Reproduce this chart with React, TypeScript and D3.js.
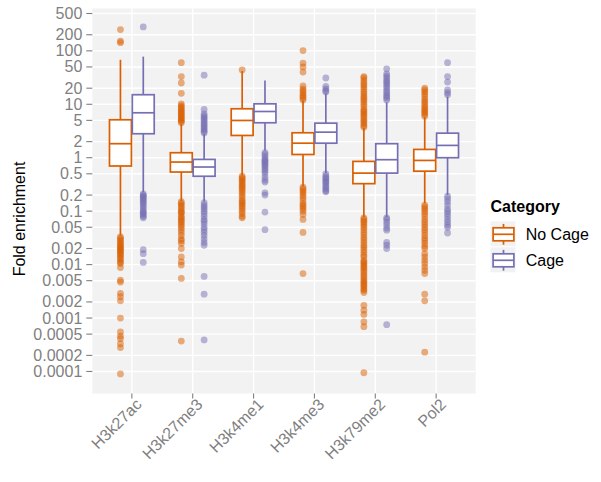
import React from "react";
import * as d3 from "d3";

// categories and groups
const categories = ["H3k27ac", "H3k27me3", "H3k4me1", "H3k4me3", "H3k79me2", "Pol2"];
const groups = ["No Cage", "Cage"];
const colors = ["#D95F02", "#7570B3"];

// box statistics (fold enrichment)
const noCageLow = [0.035, 0.155, 0.47, 0.29, 0.078, 0.14];
const noCageQ1 = [0.7, 0.54, 2.61, 1.15, 0.327, 0.56];
const noCageMedian = [1.83, 0.83, 4.98, 1.87, 0.515, 0.89];
const noCageQ3 = [5.13, 1.24, 8.24, 2.93, 0.853, 1.43];
const noCageHigh = [68, 4.3, 42, 11.8, 3.6, 5.8];

const cageLow = [0.226, 0.15, 1.35, 0.515, 0.077, 0.2];
const cageQ1 = [2.81, 0.45, 4.51, 1.87, 0.515, 1.0];
const cageMedian = [6.93, 0.67, 7.33, 3.01, 0.918, 1.7];
const cageQ3 = [15.1, 0.93, 10.2, 4.43, 1.83, 2.88];
const cageHigh = [78, 2.79, 27.9, 16, 10.9, 14];

const noCageOutliers = [
  [250, 152, 142, 0.033, 0.031, 0.029, 0.027, 0.025, 0.024, 0.022, 0.021, 0.02, 0.019, 0.018, 0.017, 0.016, 0.015, 0.014, 0.013, 0.012, 0.011, 0.0105, 0.0088, 0.0051, 0.0047, 0.0029, 0.0025, 0.0021, 0.001, 0.00055, 0.00046, 0.00041, 0.00033, 0.00028, 0.00009],
  [60, 33, 25, 16, 10.2, 9.4, 8.8, 8.2, 7.7, 7.2, 6.8, 6.4, 6, 5.6, 5.3, 5, 4.8, 4.5, 0.15, 0.14, 0.13, 0.12, 0.11, 0.1, 0.095, 0.09, 0.08, 0.075, 0.07, 0.065, 0.06, 0.055, 0.05, 0.045, 0.04, 0.035, 0.03, 0.028, 0.025, 0.02, 0.0139, 0.0112, 0.0098, 0.0055, 0.00037],
  [44, 0.45, 0.42, 0.4, 0.37, 0.35, 0.32, 0.3, 0.28, 0.26, 0.24, 0.22, 0.2, 0.18, 0.16, 0.15, 0.14, 0.13, 0.12, 0.11, 0.1, 0.09, 0.08, 0.075],
  [101, 59, 50, 40, 22, 19.5, 18, 16.5, 15, 14, 13, 12, 0.28, 0.26, 0.24, 0.22, 0.2, 0.18, 0.16, 0.14, 0.13, 0.12, 0.11, 0.1, 0.087, 0.07, 0.04, 0.0068],
  [33, 31, 28, 25, 23, 21, 19, 17, 15.5, 14, 13, 12, 11, 10, 9, 8, 7.5, 7, 6.5, 6, 5.5, 5, 4.7, 4.3, 4, 3.7, 0.075, 0.07, 0.065, 0.06, 0.055, 0.05, 0.045, 0.04, 0.036, 0.032, 0.029, 0.026, 0.023, 0.021, 0.019, 0.017, 0.015, 0.014, 0.012, 0.0112, 0.0105, 0.0098, 0.0091, 0.0085, 0.0078, 0.0072, 0.0065, 0.006, 0.0055, 0.005, 0.0047, 0.0044, 0.0041, 0.0038, 0.0035, 0.0033, 0.003, 0.00173, 0.0014, 0.00117, 0.00085, 0.00069, 0.0000946],
  [20, 18.5, 17, 15.5, 14, 12.5, 11.5, 10.5, 9.5, 8.7, 8, 7.5, 7, 6.5, 6, 0.13, 0.12, 0.11, 0.1, 0.09, 0.08, 0.07, 0.063, 0.056, 0.05, 0.045, 0.04, 0.035, 0.031, 0.028, 0.025, 0.022, 0.02, 0.016, 0.014, 0.012, 0.0105, 0.009, 0.0078, 0.0068, 0.0028, 0.0021, 0.00023],
];

const cageOutliers = [
  [280, 0.21, 0.2, 0.19, 0.18, 0.17, 0.16, 0.15, 0.14, 0.13, 0.12, 0.11, 0.1, 0.095, 0.09, 0.085, 0.08, 0.075, 0.019, 0.016, 0.011],
  [35, 8, 6.6, 6.1, 5.7, 5.3, 5, 4.6, 4.3, 4, 3.8, 3.5, 3.3, 3.1, 2.9, 0.145, 0.13, 0.12, 0.11, 0.1, 0.09, 0.08, 0.07, 0.065, 0.058, 0.05, 0.045, 0.04, 0.035, 0.03, 0.026, 0.023, 0.006, 0.0028, 0.00039],
  [1.25, 1.15, 1.05, 0.95, 0.9, 0.85, 0.8, 0.75, 0.7, 0.65, 0.6, 0.55, 0.5, 0.43, 0.38, 0.35, 0.22, 0.2, 0.096, 0.045],
  [31, 21.5, 19.5, 18, 17, 0.5, 0.45, 0.42, 0.4, 0.37, 0.35, 0.33, 0.3, 0.28, 0.26, 0.24, 0.23],
  [46, 37, 34, 31, 28, 26, 24, 22, 20, 18, 16.5, 15, 14, 13, 12, 0.075, 0.07, 0.062, 0.055, 0.048, 0.044, 0.026, 0.023, 0.02, 0.00075],
  [60, 33, 26, 18.5, 16.5, 15, 0.19, 0.17, 0.15, 0.13, 0.11, 0.1, 0.09, 0.08, 0.07, 0.062, 0.055, 0.05, 0.039],
];

// y axis breaks and visible range
const yTicks = [500, 200, 100, 50, 20, 10, 5, 2, 1, 0.5, 0.2, 0.1, 0.05, 0.02, 0.01, 0.005, 0.002, 0.001, 0.0005, 0.0002, 0.0001];
const yTickLabels = ["500", "200", "100", "50", "20", "10", "5", "2", "1", "0.5", "0.2", "0.1", "0.05", "0.02", "0.01", "0.005", "0.002", "0.001", "0.0005", "0.0002", "0.0001"];
const yLimits = [3.87e-5, 620];

const App = () => {
  // panel position
  const width = 601;
  const height = 482;
  const panelLeft = 92.3;
  const panelRight = 475.7;
  const panelTop = 8.5;
  const panelBottom = 393.5;
  const font = "'Liberation Sans', Arial, Helvetica, sans-serif";
  const tickGrey = "#7F7F7F";

  const stats = [
    { low: noCageLow, q1: noCageQ1, med: noCageMedian, q3: noCageQ3, high: noCageHigh, out: noCageOutliers },
    { low: cageLow, q1: cageQ1, med: cageMedian, q3: cageQ3, high: cageHigh, out: cageOutliers },
  ];

  const y = d3.scaleLog()
    .domain(yLimits)
    .range([panelBottom, panelTop]);

  const x = d3.scalePoint()
    .domain(categories)
    .range([panelLeft, panelRight])
    .padding(0.65);

  const step = x.step();
  const dodge = step * 0.1875;
  const boxWidth = step * 0.36;

  const boxes = [];
  categories.forEach((cat, ci) => {
    groups.forEach((g, gi) => {
      const s = stats[gi];
      boxes.push({
        key: cat + g,
        cx: x(cat) + (gi === 0 ? -dodge : dodge),
        color: colors[gi],
        low: s.low[ci], q1: s.q1[ci], med: s.med[ci], q3: s.q3[ci], high: s.high[ci],
        out: s.out[ci],
      });
    });
  });

  // legend layout
  const legendX = 490.5;
  const legendTop = 221.3;
  const keySize = 26;

  return (
    <svg width={width} height={height} style={{ position: "absolute", left: 0, top: 0 }} fontFamily={font}>
      <rect x={0} y={0} width={width} height={height} fill="white" />
      <rect x={panelLeft} y={panelTop} width={panelRight - panelLeft} height={panelBottom - panelTop} fill="#F2F2F2" />

      {/* grid */}
      {yTicks.map((t) => (
        <line key={"gy" + t} x1={panelLeft} x2={panelRight} y1={y(t)} y2={y(t)} stroke="white" strokeWidth={1.4} />
      ))}
      {categories.map((c) => (
        <line key={"gx" + c} x1={x(c)} x2={x(c)} y1={panelTop} y2={panelBottom} stroke="white" strokeWidth={1.4} />
      ))}

      {/* boxplots */}
      {boxes.map((b) => (
        <g key={b.key}>
          {b.out.map((v, i) => (
            <circle key={i} cx={b.cx} cy={y(v)} r={3.4} fill={b.color} fillOpacity={0.5} />
          ))}
          <line x1={b.cx} x2={b.cx} y1={y(b.high)} y2={y(b.q3)} stroke={b.color} strokeWidth={1.7} />
          <line x1={b.cx} x2={b.cx} y1={y(b.q1)} y2={y(b.low)} stroke={b.color} strokeWidth={1.7} />
          <rect x={b.cx - boxWidth / 2} y={y(b.q3)} width={boxWidth} height={y(b.q1) - y(b.q3)}
            fill="white" stroke={b.color} strokeWidth={1.7} />
          <line x1={b.cx - boxWidth / 2} x2={b.cx + boxWidth / 2} y1={y(b.med)} y2={y(b.med)} stroke={b.color} strokeWidth={1.7} />
        </g>
      ))}

      {/* y axis */}
      {yTicks.map((t, i) => (
        <g key={"ty" + t}>
          <line x1={panelLeft - 6} x2={panelLeft} y1={y(t)} y2={y(t)} stroke={tickGrey} strokeWidth={1.1} />
          <text x={panelLeft - 10} y={y(t)} textAnchor="end" dominantBaseline="central" fontSize={16} fill={tickGrey}>
            {yTickLabels[i]}
          </text>
        </g>
      ))}

      {/* x axis */}
      {categories.map((c) => (
        <g key={"tx" + c}>
          <line x1={x(c)} x2={x(c)} y1={panelBottom} y2={panelBottom + 5} stroke={tickGrey} strokeWidth={1.1} />
          <text transform={`translate(${x(c) + 3},${panelBottom + 4}) rotate(-45)`} textAnchor="end"
            dominantBaseline="hanging" fontSize={16} fill={tickGrey}>
            {c}
          </text>
        </g>
      ))}

      {/* y title */}
      <text transform={`translate(24.5,219) rotate(-90)`} textAnchor="middle" fontSize={16} fill="black">
        Fold enrichment
      </text>

      {/* legend */}
      <text x={legendX} y={212.3} fontSize={16} fontWeight="bold" fill="black">Category</text>
      {groups.map((g, i) => {
        const top = legendTop + i * keySize;
        const left = legendX;
        return (
          <g key={"lg" + g}>
            <rect x={left} y={top} width={keySize - 1} height={keySize - 1} fill="#F2F2F2" />
            <line x1={left + keySize / 2} x2={left + keySize / 2} y1={top + keySize * 0.1} y2={top + keySize * 0.9}
              stroke={colors[i]} strokeWidth={1.7} />
            <rect x={left + keySize * 0.1} y={top + keySize * 0.25} width={keySize * 0.8} height={keySize * 0.5}
              fill="white" stroke={colors[i]} strokeWidth={1.7} />
            <line x1={left + keySize * 0.1} x2={left + keySize * 0.9} y1={top + keySize / 2} y2={top + keySize / 2}
              stroke={colors[i]} strokeWidth={1.7} />
            <text x={525.7} y={top + keySize / 2} dominantBaseline="central" fontSize={16} fill="black">{g}</text>
          </g>
        );
      })}
    </svg>
  );
};

export default App;
